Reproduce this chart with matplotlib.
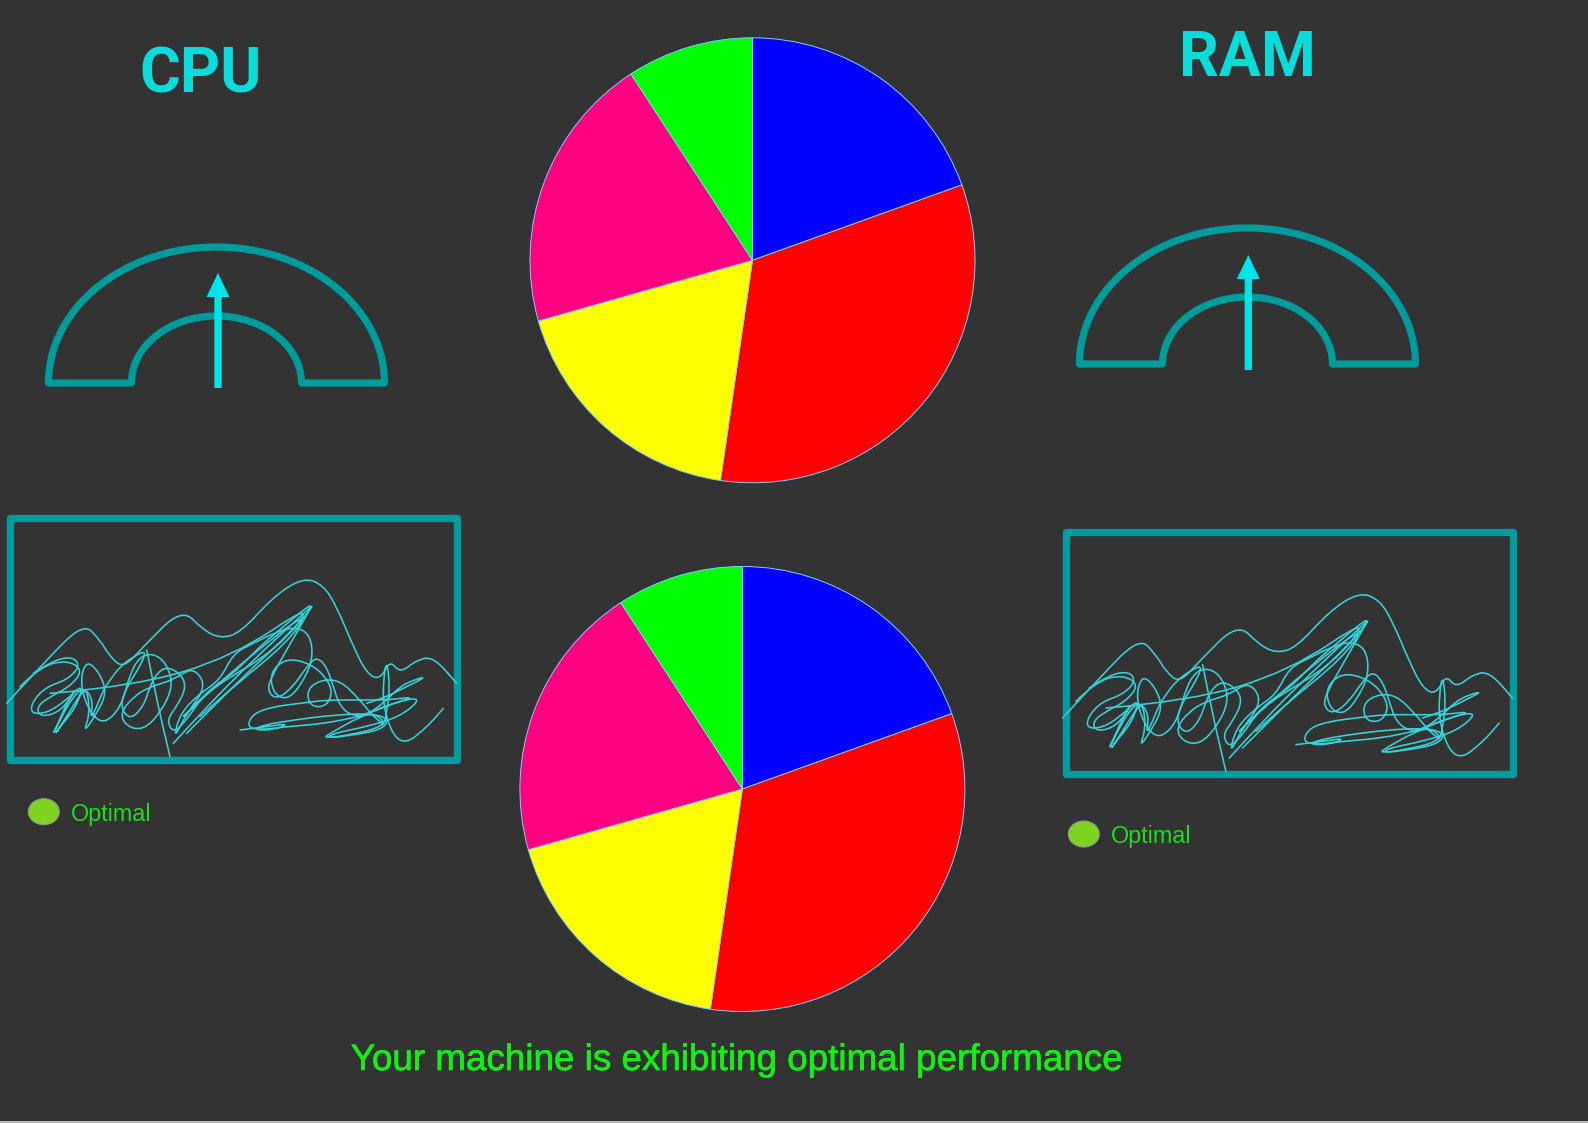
import numpy as np
from matplotlib import pyplot as plt
from matplotlib.path import Path
from matplotlib.patches import PathPatch, Rectangle, Ellipse
from matplotlib import patheffects as pe

# Datos
titulos = ['CPU', 'RAM']
estado = 'Optimal'
mensaje = 'Your machine is exhibiting optimal performance'

pie_valores = [19.5, 32.8, 18.3, 20.2, 9.2]
pie_colores = ['#0000FF', '#FF0000', '#FFFF00', '#FF0080', '#00FF00']

# trazo a mano (unidades de calco: 3x pixel, desde la esquina del recuadro)
onda_x = [20, 130, 250, 300, 330, 370, 430, 545, 610, 660, 720, 820, 910, 970,
          1010, 1060, 1100, 1140, 1170, 1200, 1250, 1300, 1370]
onda_y = [610, 490, 368, 420, 470, 505, 440, 325, 390, 415, 400, 290, 232, 255,
          320, 440, 520, 540, 480, 520, 480, 470, 550]

lazos_x = [100, 160, 220, 240, 200, 140, 100, 90, 140, 200, 250, 230, 180, 160,
           200, 230, 260, 270, 250, 290, 320, 300, 260, 240, 260, 300, 340, 370,
           390, 420, 460, 500, 520, 480, 430, 380, 360, 400, 450, 520, 580, 620,
           560, 520, 540, 600, 660, 700, 760, 820, 880, 930, 940, 900, 860, 820,
           810, 850, 900, 960, 1000, 980, 930, 920, 960, 1020, 1080, 1120, 1160,
           1130, 1070, 980, 860, 780, 740, 760, 820, 900, 980, 1060, 1160, 1250,
           1180, 1080, 990, 970, 1050, 1150, 1160, 1170, 1160, 1150, 1150, 1180,
           1220, 1270, 1300, 1330]
lazos_y = [520, 480, 470, 500, 540, 560, 600, 640, 640, 600, 550, 620, 680, 710,
           650, 600, 560, 640, 700, 640, 580, 520, 480, 540, 620, 670, 650, 600,
           520, 470, 460, 490, 560, 640, 690, 680, 640, 590, 560, 540, 500, 560,
           640, 720, 640, 580, 540, 460, 430, 400, 380, 400, 480, 560, 600, 580,
           520, 480, 480, 510, 570, 620, 620, 570, 540, 540, 600, 650, 680, 640,
           650, 670, 680, 690, 680, 640, 620, 610, 600, 600, 600, 590, 610, 650,
           700, 715, 705, 680, 640, 560, 480, 540, 620, 710, 730, 690, 660, 625]

lazos2_x = [60, 120, 200, 250, 210, 150, 110, 120, 170, 210, 230, 200, 170, 155,
            190, 220, 250, 280, 270, 290, 310, 330, 360, 400, 440, 420, 380, 360,
            390, 430, 450, 470, 500, 540, 560, 530, 500, 520, 560, 600, 640, 700,
            740, 790, 850, 910, 940, 900, 860, 820, 800, 830, 880, 920, 950, 980,
            1000, 1020, 1060, 1110, 1160, 1200, 1240, 1280, 1220, 1160, 1100]
lazos2_y = [560, 500, 480, 510, 560, 590, 620, 650, 640, 600, 560, 610, 680, 710,
            640, 590, 560, 600, 660, 620, 570, 540, 500, 470, 450, 500, 560, 620,
            660, 620, 560, 520, 500, 520, 560, 620, 660, 700, 660, 600, 560, 520,
            480, 430, 380, 330, 310, 380, 450, 520, 570, 600, 560, 500, 470, 500,
            560, 620, 650, 640, 600, 560, 540, 530, 560, 590, 610]

lazos3_x = [720, 800, 870, 820, 760, 790, 880, 1000, 1120, 1170, 1140, 1060,
            980, 1000, 1100, 1200, 1260, 1230, 1150, 1080]
lazos3_y = [690, 680, 670, 690, 690, 675, 660, 645, 640, 660, 690, 705, 715,
            700, 680, 650, 600, 595, 620, 650]

rayas_x = [150, 400, 700, 950, 830, 640, 560, 540, 600, 760, 930, 860, 700, 600]
rayas_y = [580, 560, 470, 300, 450, 560, 640, 660, 600, 460, 330, 430, 560, 650]

rayas2_x = [520, 620, 760, 900, 950, 880, 740, 620, 560]
rayas2_y = [730, 620, 480, 350, 305, 390, 520, 640, 700]

bajada_x = [440, 470, 510]
bajada_y = [450, 600, 770]

trazos = [(onda_x, onda_y), (lazos_x, lazos_y), (lazos2_x, lazos2_y),
          (lazos3_x, lazos3_y), (rayas_x, rayas_y), (rayas2_x, rayas2_y),
          (bajada_x, bajada_y)]

W, H = 1588, 1123
FONDO = '#333333'
TEAL = '#009B9B'
CIAN = '#0ADCDC'
VERDE = '#14F014'


def fy(y):
    return H - y


def medidor(ax, cx, base, flecha_x, flecha_base, flecha_punta):
    t = np.linspace(np.pi, 0, 120)
    ext = np.column_stack([cx + 168 * np.cos(t), fy(base) + 136 * np.sin(t)])
    t2 = np.linspace(0, np.pi, 80)
    inte = np.column_stack([cx + 85 * np.cos(t2), fy(base) + 67 * np.sin(t2)])
    pts = np.vstack([ext, inte, ext[:1]])
    ax.add_patch(PathPatch(Path(pts, closed=True), fill=False, ec=TEAL,
                           lw=5.2, joinstyle='round'))
    ax.arrow(flecha_x, fy(flecha_base), 0, flecha_base - flecha_punta,
             width=7.3, head_width=23, head_length=24,
             length_includes_head=True, color='#00E4EA', lw=0)


def curva(ax, xs, ys, x0, y0, lw=1.15):
    px = np.array([x0 + zx / 3 - 10.3 for zx in xs])
    py = np.array([fy(y0 + zy / 3 - 17.5) for zy in ys])
    verts = [(px[0], py[0])]
    codes = [Path.MOVETO]
    for i in range(1, len(px) - 1):
        verts += [(px[i], py[i]), ((px[i] + px[i + 1]) / 2, (py[i] + py[i + 1]) / 2)]
        codes += [Path.CURVE3, Path.CURVE3]
    verts.append((px[-1], py[-1]))
    codes.append(Path.LINETO)
    ax.add_patch(PathPatch(Path(verts, codes), fill=False, ec='#35D2D8',
                           lw=lw, capstyle='round'))


def recuadro(ax, x0, y0, x1, y1, ley_x, ley_y):
    ax.add_patch(Rectangle((x0, fy(y1)), x1 - x0, y1 - y0, fill=False,
                           ec=TEAL, lw=5.3, joinstyle='round'))
    for xs, ys in trazos:
        curva(ax, xs, ys, x0, y0)
    ax.add_patch(Ellipse((ley_x, fy(ley_y)), 31, 26, fc='#7ED321',
                         ec='#8A9A8A', lw=0.8))
    ax.text(ley_x + 27, fy(ley_y + 9.5), estado, color='#1AE01A', fontsize=16.8,
            family=['Liberation Sans', 'DejaVu Sans'], va='baseline', ha='left')


fig = plt.figure(figsize=(W / 100, H / 100), dpi=100, facecolor=FONDO)
ax = fig.add_axes([0, 0, 1, 1])
ax.set_facecolor(FONDO)

# pasteles
for cx, cy in [(752.5, 260.3), (742.4, 789.0)]:
    ax.pie(pie_valores, colors=pie_colores, startangle=90, counterclock=False,
           center=(cx, fy(cy)), radius=222.5,
           wedgeprops={'edgecolor': '#80D0FF', 'linewidth': 0.7})

fuente_titulo = ['Roboto', 'Liberation Sans', 'DejaVu Sans']
ax.text(201, fy(92.5), titulos[0], color=CIAN, fontsize=45, weight='bold',
        family=fuente_titulo, ha='center', va='baseline')
ax.text(1247, fy(76), titulos[1], color=CIAN, fontsize=45, weight='bold',
        family=fuente_titulo, ha='center', va='baseline')

medidor(ax, 216.5, 383, 218, 388, 273)
medidor(ax, 1247.5, 364, 1248.3, 370, 255)

recuadro(ax, 10.3, 517.5, 457, 759.7, 43.8, 811.7)
recuadro(ax, 1066.2, 532.2, 1513, 774, 1083.8, 834)

ax.text(350.7, fy(1070), mensaje, color=VERDE, fontsize=26.5,
        family=['Liberation Sans', 'DejaVu Sans'], ha='left', va='baseline',
        path_effects=[pe.withStroke(linewidth=0.45, foreground=VERDE)])

ax.add_patch(Rectangle((0, 0), W, 1.8, color='#B8B8B8', lw=0))

ax.set_xlim(0, W)
ax.set_ylim(0, H)
ax.set_aspect('auto')
ax.axis('off')

fig.savefig('out.png', dpi=100, facecolor=FONDO)
